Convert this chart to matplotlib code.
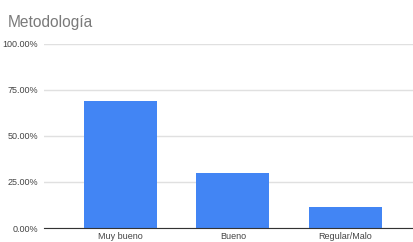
import numpy as np
import matplotlib.pyplot as plt
from matplotlib.ticker import FuncFormatter

categories = ['Muy bueno', 'Bueno', 'Regular/Malo']
values = [69.0, 29.7, 11.4]  # percent
yticks = [0, 25, 50, 75, 100]

plt.rcParams['font.family'] = ['Liberation Sans', 'DejaVu Sans']

fig = plt.figure(figsize=(4.14, 2.42), dpi=100)
ax = fig.add_axes([44 / 414, 14 / 242, 370 / 414, 184.5 / 242])

x = np.arange(len(categories))
ax.bar(x, values, width=0.65, color='#4285f4', zorder=3)

ax.set_ylim(0, 100)
ax.set_xlim(-0.68, 2.61)
ax.set_yticks(yticks)
ax.yaxis.set_major_formatter(FuncFormatter(lambda v, p: f'{v:.2f}%'))
ax.set_xticks(x)
ax.set_xticklabels(categories)
ax.tick_params(axis='both', length=0, labelsize=6.5, labelcolor='#444444')
ax.tick_params(axis='x', pad=3)
ax.tick_params(axis='y', pad=4)

ax.grid(axis='y', color='#e0e0e0', linewidth=1, zorder=0)
for s in ['top', 'right', 'left']:
    ax.spines[s].set_visible(False)
ax.spines['bottom'].set_color('#333333')
ax.spines['bottom'].set_linewidth(0.8)
ax.spines['bottom'].set_zorder(4)

fig.text(8 / 414, 1 - 22 / 242, 'Metodología', fontsize=11.2, color='#7a7a7a', va='center', ha='left')

fig.savefig('out.png', dpi=100)
